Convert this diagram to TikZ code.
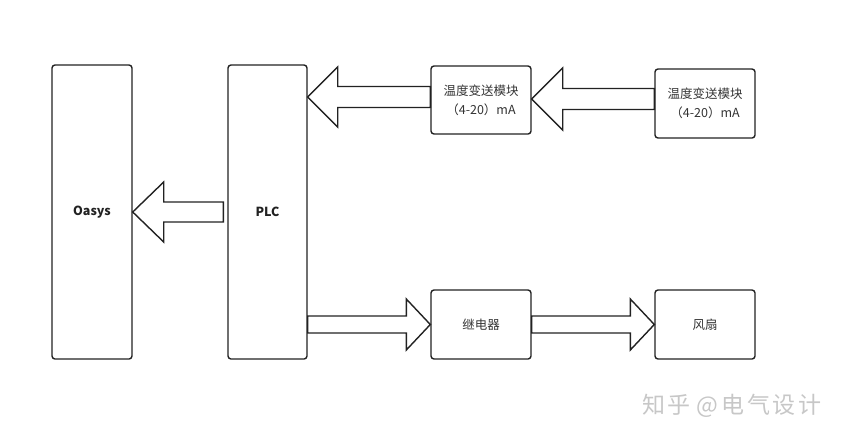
\documentclass[tikz,border=0pt]{standalone}
\usepackage{fontspec}
\setmainfont{Noto Sans CJK SC}
\usetikzlibrary{calc}
\definecolor{edge}{HTML}{222222}
\definecolor{txt}{HTML}{333333}
\tikzset{
  box/.style={draw=edge, line width=1.4pt, rounded corners=3pt, inner sep=0pt, align=center,
    font=\fontsize{12.5}{19}\selectfont, text=txt},
  bigbox/.style={box, font=\fontsize{12.5}{19}\selectfont\bfseries, text=edge},
  arrowline/.style={draw=edge, line width=1.4pt, fill=white, line join=miter},
}
% tail, tip, shaft half width, head half width, head length, direction sign
\newcommand\hblockarrow[6]{%
  \draw[arrowline] let \p1=(#1), \p2=(#2) in
   (\x1,\y2+#3) -- (\x2-#6*#5,\y2+#3) -- (\x2-#6*#5,\y2+#4) -- (\x2,\y2)
   -- (\x2-#6*#5,\y2-#4) -- (\x2-#6*#5,\y2-#3) -- (\x1,\y2-#3) -- cycle;}
\begin{document}
\begin{tikzpicture}[x=1pt,y=-1pt]
\useasboundingbox (0,0) rectangle (850,440);
\node[bigbox, minimum width=80pt, minimum height=294pt] (oasys) at (92,212) {Oasys};
\node[bigbox, minimum width=79pt, minimum height=294pt] (plc) at (267.5,212) {PLC};
\node[box, minimum width=100pt, minimum height=68pt] (t1) at (481,100) {温度变送模块\\（4-20）mA};
\node[box, minimum width=100pt, minimum height=69pt] (t2) at (705,103.5) {温度变送模块\\（4-20）mA};
\node[box, minimum width=100pt, minimum height=69pt] (relay) at (481,324.5) {继电器};
\node[box, minimum width=100pt, minimum height=69pt] (fan) at (705,324.5) {风扇};
\coordinate (ptail) at ($(plc.west)+(-4,0)$);
\hblockarrow{ptail}{oasys.east}{10pt}{30pt}{31pt}{-1}
\hblockarrow{t1.west}{plc.east |- 0,97}{10.5pt}{30pt}{30pt}{-1}
\hblockarrow{t2.west}{t1.east |- 0,99}{10.5pt}{31pt}{31pt}{-1}
\hblockarrow{plc.east |- relay.west}{relay.west}{8.5pt}{25.5pt}{24pt}{1}
\hblockarrow{relay.east}{fan.west}{8.5pt}{25.5pt}{24pt}{1}
\node[font=\fontsize{23}{28}\selectfont\addfontfeatures{LetterSpace=12}, text=black!22, anchor=west, inner sep=0pt] (wm) at (642,406) {知乎\hspace{6pt}@电气设计};
\end{tikzpicture}
\end{document}
